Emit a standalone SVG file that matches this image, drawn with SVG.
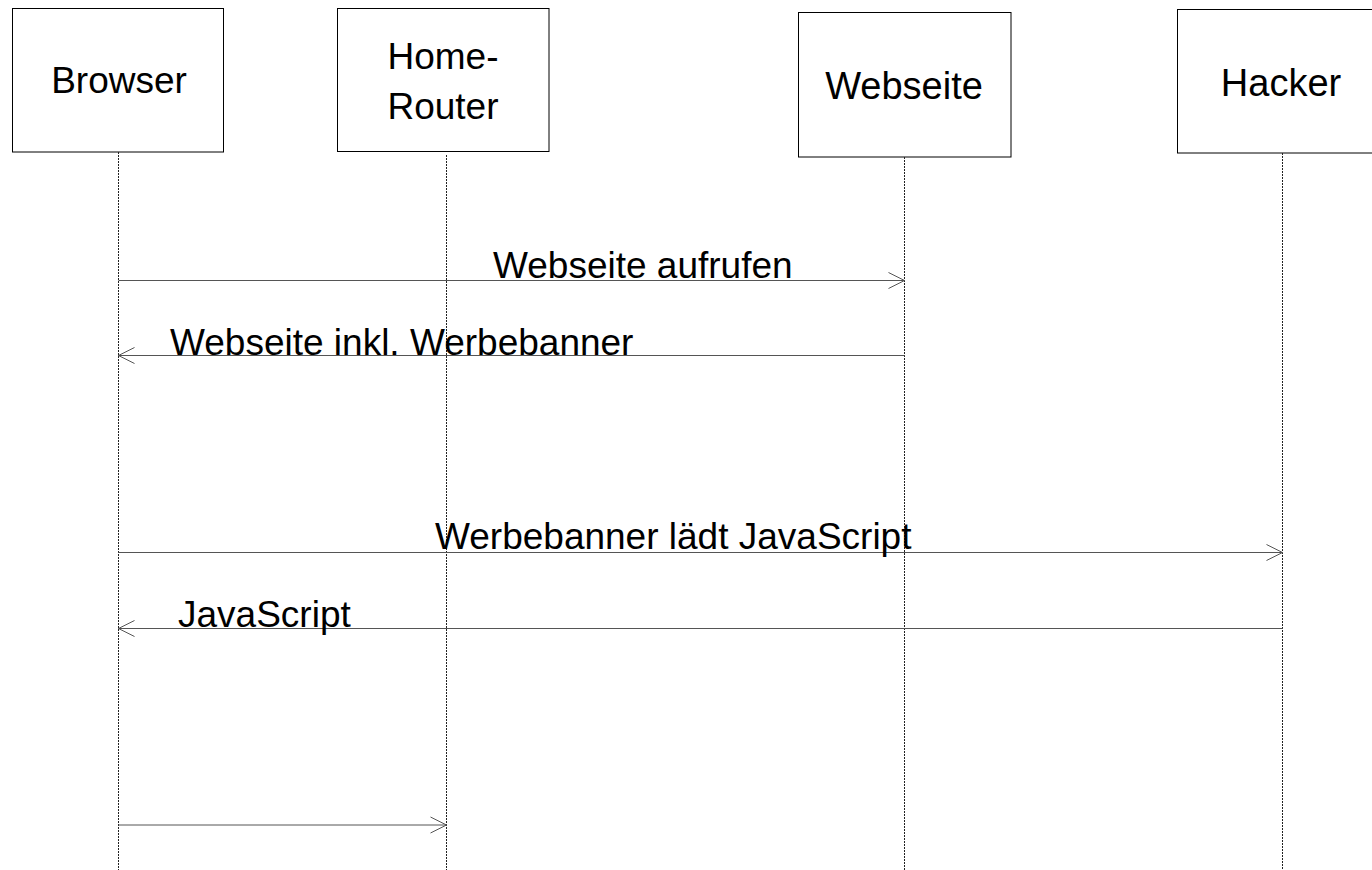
<svg xmlns="http://www.w3.org/2000/svg" width="1372" height="870" viewBox="0 0 1372 870">
<style>
.box{fill:#fff;stroke:#000;stroke-width:1}
.life{stroke:#222;stroke-width:1;stroke-dasharray:2,1;fill:none}
.msg{stroke:#555;stroke-width:1;fill:none}
text{font-family:"Liberation Sans",Arial,sans-serif;font-size:37px;fill:#000}
.c{text-anchor:middle}
</style>
<defs>
<marker id="arr" markerUnits="userSpaceOnUse" markerWidth="20" markerHeight="20" viewBox="-18 -10 20 20" refX="0" refY="0" orient="auto">
<path d="M-16,-8 L0,0 L-16,8" fill="none" stroke="#555" stroke-width="1"/>
</marker>
</defs>
<rect width="1372" height="870" fill="#fff"/>
<g id="browser">
<rect class="box" x="12.5" y="8.5" width="211" height="143.5"/>
<line class="life" x1="118.5" y1="152" x2="118.5" y2="870"/>
<text class="c" x="119" y="93">Browser</text>
</g>
<g id="home-router">
<rect class="box" x="337.5" y="8.5" width="211.5" height="143"/>
<line class="life" x1="446.5" y1="155" x2="446.5" y2="870"/>
<text class="c" x="443" y="69">Home-</text>
<text class="c" x="443" y="119">Router</text>
</g>
<g id="webseite">
<rect class="box" x="798.5" y="12.5" width="212.5" height="144.5"/>
<line class="life" x1="904.5" y1="157" x2="904.5" y2="870"/>
<text class="c" x="904" y="99" style="font-size:38px">Webseite</text>
</g>
<g id="hacker">
<rect class="box" x="1177.5" y="9.5" width="210" height="143.5"/>
<line class="life" x1="1282.5" y1="153" x2="1282.5" y2="870"/>
<text class="c" x="1281" y="96" style="font-size:38px">Hacker</text>
</g>
<g id="connectors">
<line class="msg" x1="118.5" y1="280.5" x2="904.5" y2="280.5" marker-end="url(#arr)"/>
<text x="493" y="278">Webseite aufrufen</text>
<line class="msg" x1="904.5" y1="355.5" x2="118.5" y2="355.5" marker-end="url(#arr)"/>
<text x="170" y="355">Webseite inkl. Werbebanner</text>
<line class="msg" x1="118.5" y1="552.5" x2="1282.5" y2="552.5" marker-end="url(#arr)"/>
<text x="435" y="549">Werbebanner lädt JavaScript</text>
<line class="msg" x1="1282.5" y1="628.5" x2="118.5" y2="628.5" marker-end="url(#arr)"/>
<text x="178" y="627">JavaScript</text>
<line class="msg" x1="118.5" y1="825" x2="446.5" y2="825" marker-end="url(#arr)"/>
</g>
</svg>
